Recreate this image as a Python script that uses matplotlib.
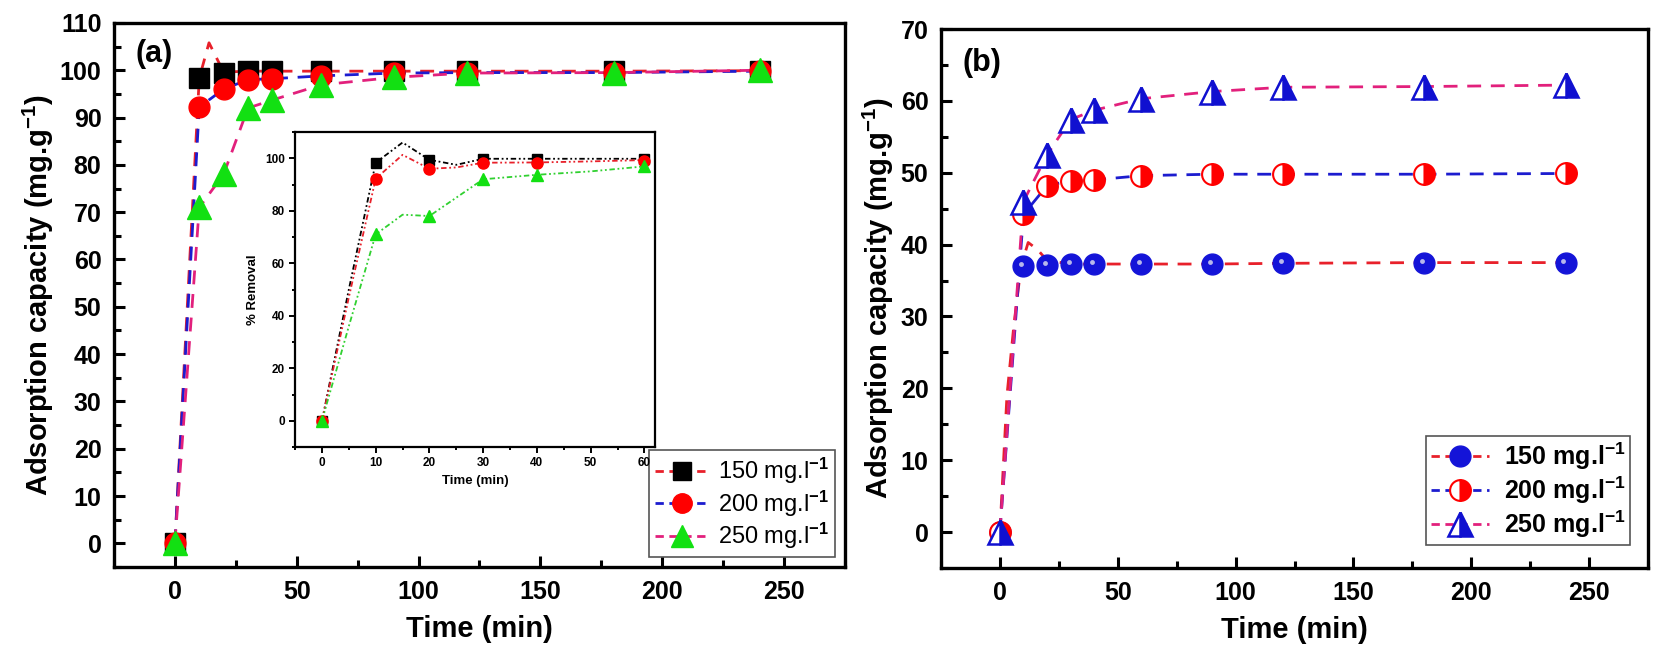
import matplotlib
matplotlib.use("Agg")
from matplotlib import pyplot as plt
from matplotlib.ticker import MultipleLocator
from matplotlib.transforms import offset_copy

plt.rcParams['font.family'] = ['Liberation Sans', 'DejaVu Sans']
plt.rcParams['font.weight'] = 'bold'
plt.rcParams['mathtext.fontset'] = 'custom'
plt.rcParams['mathtext.rm'] = 'Liberation Sans:bold'
plt.rcParams['mathtext.bf'] = 'Liberation Sans:bold'
plt.rcParams['mathtext.default'] = 'bf'

# ---- data ----
time = [0, 10, 20, 30, 40, 60, 90, 120, 180, 240]
labels = ['150 mg.l$^{-1}$', '200 mg.l$^{-1}$', '250 mg.l$^{-1}$']

# panel (a)
qa_150 = [0, 98.3, 99.4, 99.8, 99.8, 99.8, 99.8, 99.8, 99.8, 99.9]
qa_200 = [0, 92.2, 96.0, 98.0, 98.2, 98.8, 99.4, 99.5, 99.5, 99.8]
qa_250 = [0, 71.0, 78.0, 92.0, 93.7, 96.9, 98.5, 99.4, 99.5, 100.0]
# fitted red line of 150 (overshoots near t = 14)
fit_a150_t = [0, 10, 14, 20, 30, 40, 60, 90, 120, 180, 240]
fit_a150_q = [0, 98.3, 105.8, 99.6, 99.8, 99.8, 99.8, 99.8, 99.8, 99.8, 99.9]

# inset (% removal, first hour)
ins_time = [0, 10, 20, 30, 40, 60]
ins_150 = [0, 98.3, 99.4, 99.8, 99.8, 99.8]
ins_200 = [0, 92.2, 96.0, 98.0, 98.2, 98.8]
ins_250 = [0, 71.0, 78.0, 92.0, 93.7, 96.9]
ins_curve_t = [0, 5, 10, 15, 20, 25, 30, 40, 50, 60]
ins_curve_150 = [0, 50, 98.3, 106, 99.4, 97.5, 99.8, 99.8, 99.8, 99.8]
ins_curve_200 = [0, 47, 92.2, 101.3, 96.0, 96.5, 98.3, 98.4, 98.8, 99.3]
ins_curve_250 = [0, 36, 71.0, 78.5, 78.0, 85.0, 92.0, 93.7, 95.0, 96.9]

# panel (b)
qb_150 = [0, 37.0, 37.2, 37.3, 37.3, 37.3, 37.3, 37.4, 37.5, 37.5]
qb_200 = [0, 44.2, 48.2, 48.9, 49.0, 49.6, 49.8, 49.8, 49.8, 49.9]
qb_250 = [0, 46.0, 52.5, 57.4, 58.7, 60.3, 61.3, 61.9, 62.0, 62.2]
fit_b150_t = [0, 3, 6, 9, 12, 16, 20, 30, 40, 60, 90, 120, 180, 240]
fit_b150_q = [0, 19, 29, 37, 40.3, 39.3, 37.8, 37.3, 37.3, 37.3, 37.3, 37.4, 37.5, 37.5]

RED = '#ff0000'
LRED = '#e8202a'
BLUE = '#1c1ccf'
PINK = '#e2207c'
GREEN = '#12e012'
DASH = (0, (5, 3.5))

fig = plt.figure(figsize=(16.54, 6.47), dpi=100)
ax1 = fig.add_axes([0.0689, 0.1236, 0.442, 0.841])
ax2 = fig.add_axes([0.5689, 0.1221, 0.4275, 0.833])
axin = fig.add_axes([0.1784, 0.309, 0.2177, 0.487])


def style_main(ax, ymax, ystep):
    ax.set_xlim(-25, 275)
    ax.set_ylim(-5, ymax)
    ax.xaxis.set_major_locator(MultipleLocator(50))
    ax.xaxis.set_minor_locator(MultipleLocator(25))
    ax.yaxis.set_major_locator(MultipleLocator(ystep))
    ax.yaxis.set_minor_locator(MultipleLocator(ystep / 2))
    ax.tick_params(which='both', direction='in', top=False, right=False,
                   width=2.2, labelsize=18)
    ax.tick_params(which='major', length=8, pad=9)
    ax.tick_params(which='minor', length=5)
    for s in ax.spines.values():
        s.set_linewidth(2.4)
    ax.set_xlabel('Time (min)', fontsize=21, fontweight='bold', labelpad=8)
    ax.set_ylabel('Adsorption capacity (mg.g$^{-1}$)', fontsize=21,
                  fontweight='bold', labelpad=3)


# ---- panel (a) ----
style_main(ax1, 110, 10)
ax1.plot(fit_a150_t, fit_a150_q, color=LRED, ls=DASH, lw=2, zorder=2)
ax1.plot(time, qa_200, color=BLUE, ls=DASH, lw=2, zorder=2)
ax1.plot(time, qa_250, color=PINK, ls=DASH, lw=2, zorder=2)
ax1.plot(time, qa_150, 's', color='black', ms=14, zorder=3)
ax1.plot(time, qa_200, 'o', color=RED, ms=15, zorder=4)
ax1.plot(time, qa_250, '^', color=GREEN, ms=17, zorder=5)
h1 = [
    ax1.plot([], [], color=LRED, ls=(0, (3, 2)), lw=2, marker='s', mfc='black', mec='black', ms=13)[0],
    ax1.plot([], [], color=BLUE, ls=(0, (3, 2)), lw=2, marker='o', mfc=RED, mec=RED, ms=14)[0],
    ax1.plot([], [], color=PINK, ls=(0, (3, 2)), lw=2, marker='^', mfc=GREEN, mec=GREEN, ms=16)[0],
]
leg1 = ax1.legend(h1, labels, loc='lower right', bbox_to_anchor=(0.986, 0.018),
                  borderaxespad=0, prop={'size': 17, 'weight': 'normal'},
                  handlelength=2.3, handletextpad=0.35, labelspacing=0.1,
                  fancybox=False, framealpha=1, edgecolor='#555555', borderpad=0.25)
leg1.get_frame().set_linewidth(1.2)
ax1.text(0.03, 0.97, '(a)', transform=ax1.transAxes, fontsize=22,
         fontweight='bold', va='top', ha='left')

# ---- inset ----
axin.set_xlim(-5, 62)
axin.set_ylim(-10, 110)
axin.xaxis.set_major_locator(MultipleLocator(10))
axin.xaxis.set_minor_locator(MultipleLocator(5))
axin.yaxis.set_major_locator(MultipleLocator(20))
axin.yaxis.set_minor_locator(MultipleLocator(10))
axin.tick_params(which='both', direction='out', top=False, right=False,
                 width=1.4, labelsize=8.5)
axin.tick_params(which='major', length=4)
axin.tick_params(which='minor', length=2.5)
for s in axin.spines.values():
    s.set_linewidth(1.6)
axin.set_xlabel('Time (min)', fontsize=9.5, fontweight='bold')
axin.set_ylabel('% Removal', fontsize=9.5, fontweight='bold')
DDOT = (0, (3, 1.5, 1, 1.5, 1, 1.5))
axin.plot(ins_curve_t, ins_curve_150, color='black', ls=DDOT, lw=1.3, zorder=2)
axin.plot(ins_curve_t, ins_curve_200, color=LRED, ls=DDOT, lw=1.3, zorder=2)
axin.plot(ins_curve_t, ins_curve_250, color='#30d030', ls=DDOT, lw=1.3, zorder=2)
axin.plot(ins_time, ins_150, 's', color='black', ms=7, zorder=3)
axin.plot(ins_time, ins_200, 'o', color=RED, ms=8, zorder=4)
axin.plot(ins_time, ins_250, '^', color=GREEN, ms=9, zorder=5)

# ---- panel (b) ----
style_main(ax2, 70, 10)
ax2.plot(fit_b150_t, fit_b150_q, color=LRED, ls=DASH, lw=2, zorder=2)
ax2.plot(time, qb_200, color=BLUE, ls=DASH, lw=2, zorder=2)
ax2.plot(time, qb_250, color=PINK, ls=DASH, lw=2, zorder=2)
ax2.plot(time, qb_150, 'o', color='#1414d8', ms=15, zorder=3)
hl = offset_copy(ax2.transData, fig=fig, x=-1.5, y=1.5, units='points')
ax2.plot(time, qb_150, 'o', color='#b8b8ec', ms=3.5, mec='none', transform=hl, zorder=3)
ax2.plot(time, qb_200, 'o', ms=15, mfc=RED, mfcalt='white', mec=RED,
         fillstyle='right', mew=1.5, zorder=4)
ax2.plot(time, qb_250, '^', ms=17, mfc='#1010d0', mfcalt='white', mec='#1010d0',
         fillstyle='right', mew=1.8, zorder=5)
h2 = [
    ax2.plot([], [], color=LRED, ls=(0, (3, 2)), lw=2, marker='o', mfc='#1414d8', mec='#1414d8', ms=15)[0],
    ax2.plot([], [], color=BLUE, ls=(0, (3, 2)), lw=2, marker='o', mfc=RED, mfcalt='white',
             mec=RED, fillstyle='right', mew=1.5, ms=15)[0],
    ax2.plot([], [], color=PINK, ls=(0, (3, 2)), lw=2, marker='^', mfc='#1010d0', mfcalt='white',
             mec='#1010d0', fillstyle='right', mew=1.8, ms=17)[0],
]
leg2 = ax2.legend(h2, labels, loc='lower right', bbox_to_anchor=(0.975, 0.043),
                  borderaxespad=0, fontsize=18, handlelength=2.3, handletextpad=0.6,
                  labelspacing=0.1, fancybox=False, framealpha=1, edgecolor='#555555',
                  borderpad=0.2)
leg2.get_frame().set_linewidth(1.2)
ax2.text(0.03, 0.965, '(b)', transform=ax2.transAxes, fontsize=22,
         fontweight='bold', va='top', ha='left')

fig.savefig('out.png', dpi=100)
